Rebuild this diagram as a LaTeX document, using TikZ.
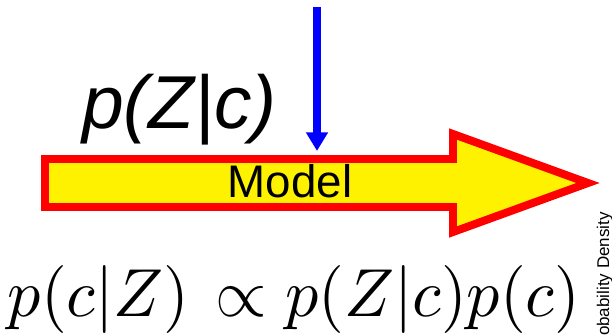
\documentclass[tikz,border=0pt]{standalone}
\usepackage[no-math]{fontspec}
\usepackage{graphicx}
\newfontfamily\helv{Liberation Sans}
\usepackage{tikz}
\usetikzlibrary{arrows.meta}

\begin{document}
\begin{tikzpicture}[
  x=0.03cm, y=-0.03cm,
  every node/.style={inner sep=0pt},
  modelarrow/.style={draw=red, fill=yellow, line width=6.8pt, line join=miter, miter limit=10},
  feed/.style={-{Triangle[length=16pt, width=18pt]}, draw=blue, line width=6pt},
  bigsans/.style={font=\helv\itshape\fontsize{64}{70}\selectfont},
  boxtext/.style={font=\helv\fontsize{39}{44}\selectfont},
  axistext/.style={font=\helv\fontsize{14.5}{16}\selectfont}
]
\useasboundingbox (0,0) rectangle (612,335);

% the model arrow
\draw[modelarrow] (45,159) -- (453,159) -- (453,134) -- (588,183)
  -- (453,232) -- (453,207) -- (45,207) -- cycle;
\node[boxtext, anchor=base] (model) at (290,197) {Model};

\node[bigsans, anchor=base west] (likelihood) at (82,128) {p(Z|c)};

\coordinate (input) at (317,7);
\coordinate (modelin) at (317,151);
\draw[feed] (input) -- (modelin);

\node[anchor=base] (bayes) at (294,316)
  {\scalebox{5.65}[5.8]{$p(c|Z)\mkern2mu\propto p(Z|c)p(c)$}};

% cut-off axis label at the right edge
\node[axistext, rotate=90, anchor=base east] (density) at (609,212) {Probability Density};

\end{tikzpicture}
\end{document}
